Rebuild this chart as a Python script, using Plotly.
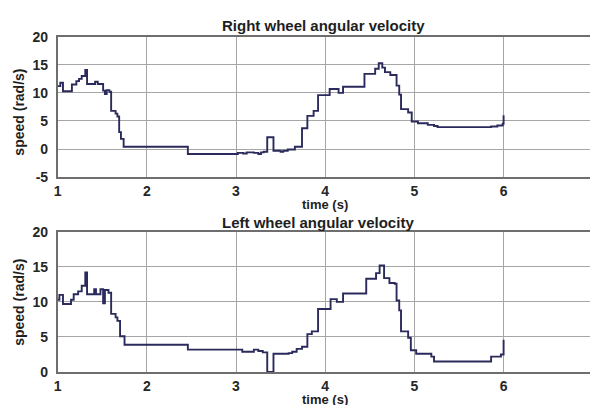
import plotly.graph_objects as go

# Right wheel angular velocity (step data: time of change, new value)
right_t = [1.00, 1.03, 1.06, 1.16, 1.21, 1.24, 1.27, 1.31, 1.33, 1.42, 1.45, 1.51, 1.53, 1.55,
           1.58, 1.60, 1.65, 1.67, 1.69, 1.71, 1.74, 2.46, 3.02, 3.08, 3.12, 3.20, 3.25, 3.28,
           3.31, 3.35, 3.42, 3.50, 3.53, 3.58, 3.66, 3.74, 3.80, 3.87, 3.92, 4.05, 4.15, 4.20,
           4.44, 4.56, 4.60, 4.64, 4.67, 4.73, 4.80, 4.83, 4.85, 4.93, 4.97, 5.04, 5.15, 5.22,
           5.26, 5.86, 5.93, 5.99, 6.00]
right_v = [11.2, 11.8, 10.3, 11.5, 12.1, 12.5, 13.0, 14.1, 11.6, 12.0, 11.6, 10.4, 9.8, 10.5,
           10.2, 6.8, 6.3, 5.8, 3.0, 1.8, 0.4, -0.9, -0.7, -0.8, -0.6, -0.7, -0.9, -0.6,
           -0.5, 2.1, -0.3, -0.5, -0.3, -0.1, 0.4, 3.7, 5.9, 6.8, 9.6, 10.7, 10.0, 11.1,
           13.4, 14.3, 15.3, 14.5, 13.7, 13.2, 11.3, 9.7, 7.1, 6.5, 4.9, 4.6, 4.3, 4.1,
           3.9, 4.0, 4.2, 4.5, 6.0]

# Left wheel angular velocity
left_t = [1.00, 1.02, 1.06, 1.15, 1.18, 1.23, 1.27, 1.31, 1.33, 1.41, 1.43, 1.48, 1.51, 1.53,
          1.57, 1.60, 1.65, 1.67, 1.70, 1.75, 2.46, 3.07, 3.20, 3.25, 3.30, 3.35, 3.42, 3.59,
          3.63, 3.68, 3.74, 3.80, 3.85, 3.92, 4.06, 4.13, 4.20, 4.46, 4.57, 4.61, 4.66, 4.72,
          4.78, 4.80, 4.83, 4.85, 4.93, 4.96, 5.02, 5.19, 5.22, 5.86, 5.97, 6.00]
left_v = [10.3, 11.0, 9.7, 10.3, 11.1, 11.5, 12.3, 14.2, 11.1, 11.8, 11.1, 11.8, 9.8, 11.7,
          11.3, 8.3, 7.8, 7.3, 5.1, 3.9, 3.2, 2.9, 3.2, 3.0, 2.8, 0.0, 2.6, 2.7,
          2.9, 3.3, 3.6, 5.4, 5.8, 9.0, 10.4, 10.0, 11.2, 13.3, 14.1, 15.2, 13.4, 12.7,
          12.6, 10.2, 8.8, 5.8, 4.9, 3.1, 2.6, 2.2, 1.5, 2.2, 2.5, 4.6]

x_ticks = [1, 2, 3, 4, 5, 6, 7]
y_ticks_top = [-5, 0, 5, 10, 15, 20]
y_labels_top = ["-5", "0", "5", "10", "15", "20"]
y_ticks_bottom = [0, 5, 10, 15, 20]
y_labels_bottom = ["0", "5", "10", "15", "20"]
top_titles = ["Right wheel angular velocity", "Left wheel angular velocity"]
x_title = "time (s)"
y_title = "speed (rad/s)"

W, H = 590, 405
FONT = "Liberation Sans, Arial, sans-serif"
LINE_COLOR = "#2a2a5c"
GRID = "#a6a6a6"
FRAME = "#6e6e6e"

def px_x(p):
    return p / W

def px_y(p):
    return 1 - p / H

fig = go.Figure()
fig.add_trace(go.Scatter(x=right_t, y=right_v, mode="lines", line_shape="hv",
                         line=dict(color=LINE_COLOR, width=1.9), xaxis="x", yaxis="y",
                         showlegend=False))
fig.add_trace(go.Scatter(x=left_t, y=left_v, mode="lines", line_shape="hv",
                         line=dict(color=LINE_COLOR, width=1.9), xaxis="x2", yaxis="y2",
                         showlegend=False))

tickfont = dict(family=FONT, size=14, color="#262626", weight="bold")
xcommon = dict(range=[1, 1 + (W - 54) / 89.8], tickvals=x_ticks, showgrid=True, gridcolor=GRID,
               gridwidth=1, showline=True, linecolor=FRAME, linewidth=1.5, mirror=True,
               zeroline=False, ticks="", ticklen=0, tickfont=tickfont, domain=[px_x(54), 1.0])
ycommon = dict(showgrid=True, gridcolor=GRID, gridwidth=1, showline=True,
               linecolor=FRAME, linewidth=1.5, mirror=False, zeroline=False, ticks="",
               ticklen=0, tickfont=tickfont, ticklabelstandoff=5)

fig.update_layout(
    width=W, height=H,
    margin=dict(l=0, r=0, t=0, b=0),
    paper_bgcolor="white", plot_bgcolor="white",
    xaxis=dict(**xcommon, anchor="y"),
    yaxis=dict(**ycommon, range=[-5, 20], tickvals=y_ticks_top, ticktext=y_labels_top,
               domain=[px_y(176), px_y(30)], anchor="x"),
    xaxis2=dict(**xcommon, anchor="y2"),
    yaxis2=dict(**ycommon, range=[0, 20], tickvals=y_ticks_bottom, ticktext=y_labels_bottom,
                domain=[px_y(379), px_y(233)], anchor="x2"),
)

afont = dict(family=FONT, size=15, color="#1e1e1e", weight="bold")
lfont = dict(family=FONT, size=14, color="#1e1e1e", weight="bold")
xfont = dict(family=FONT, size=13, color="#1e1e1e", weight="bold")
ann = [
    (322, 18, top_titles[0], 0, afont, "middle"),
    (323, 205, x_title, 0, xfont, "middle"),
    (316, 223, top_titles[1], 0, afont, "middle"),
    (323, 399, x_title, 0, xfont, "top"),
    (15, 108, y_title, -90, lfont, "middle"),
    (15, 306, y_title, -90, lfont, "middle"),
]
for x, y, text, ang, f, ya in ann:
    fig.add_annotation(x=px_x(x), y=px_y(y), xref="paper", yref="paper", text=text,
                       showarrow=False, textangle=ang, font=f, borderpad=0,
                       xanchor="center", yanchor=ya)

fig.write_html("out.html")
